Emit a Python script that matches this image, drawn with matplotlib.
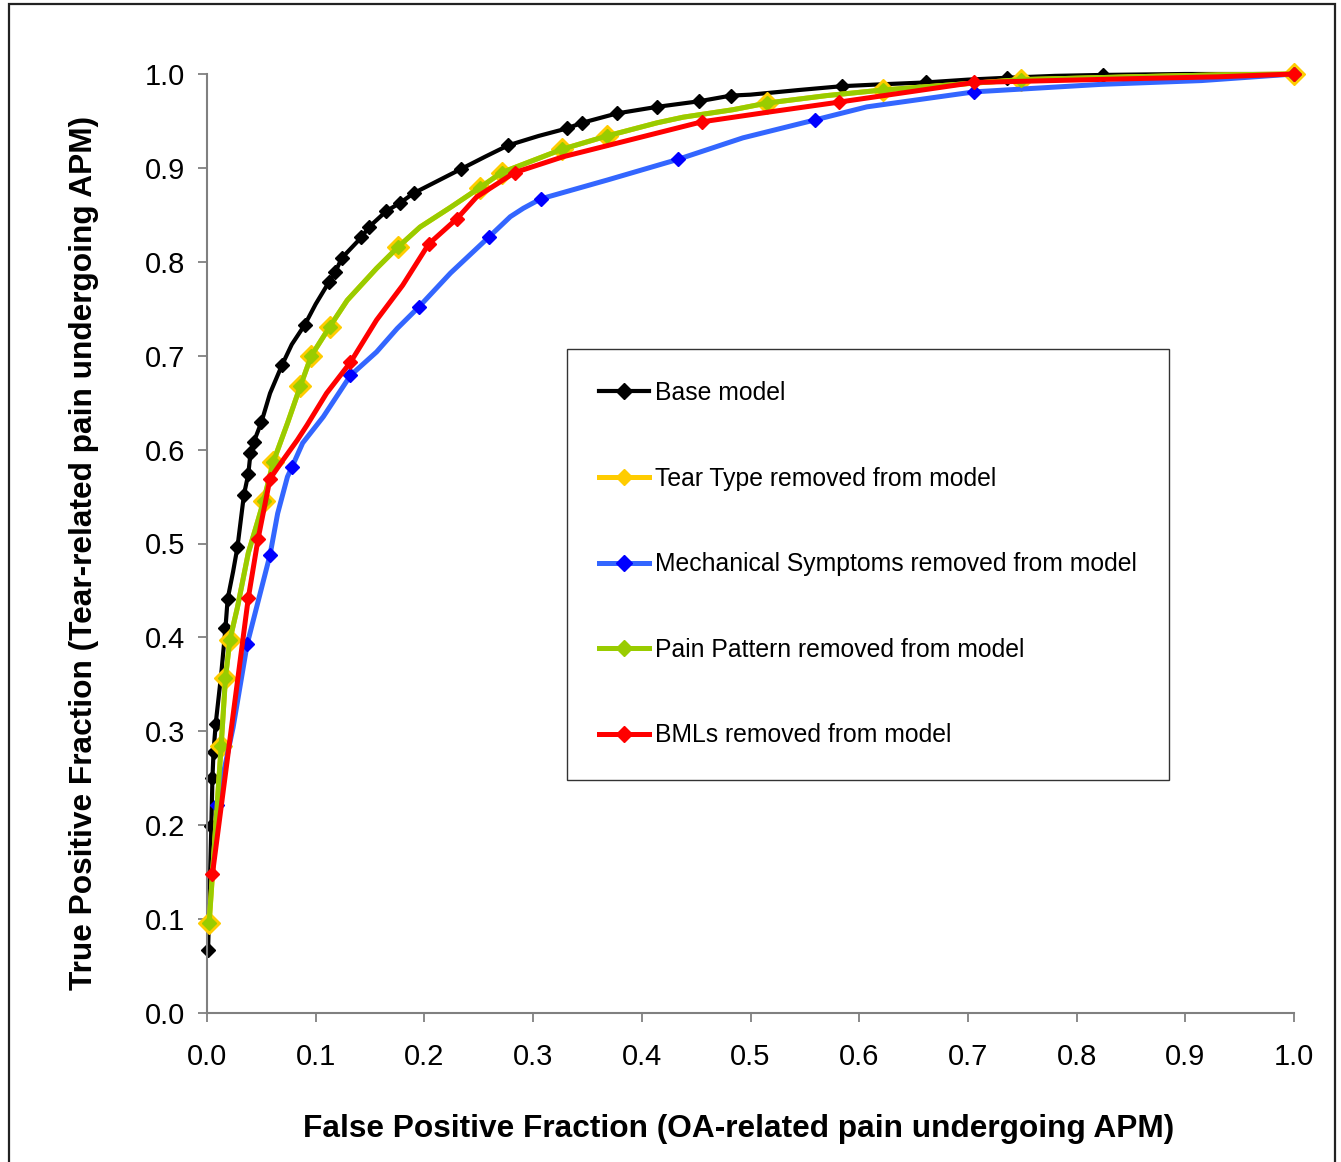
import numpy as np
import matplotlib
matplotlib.use("Agg")
import matplotlib.pyplot as plt
from matplotlib.patches import Rectangle

plt.rcParams['font.family'] = ['Liberation Sans', 'DejaVu Sans']

# ROC points: points carrying a marker, plus extra line points
base_mk_fpr = [0.001, 0.004, 0.005, 0.006, 0.008, 0.017, 0.019, 0.028, 0.034, 0.038, 0.040, 0.043, 0.050,
               0.069, 0.090, 0.112, 0.118, 0.124, 0.142, 0.149, 0.165, 0.178, 0.190, 0.234, 0.277, 0.331,
               0.345, 0.377, 0.414, 0.453, 0.482, 0.584, 0.661, 0.736, 0.824, 1.000]
base_mk_tpr = [0.067, 0.199, 0.250, 0.278, 0.308, 0.410, 0.441, 0.496, 0.552, 0.574, 0.596, 0.608, 0.629,
               0.690, 0.733, 0.778, 0.789, 0.804, 0.826, 0.837, 0.854, 0.863, 0.873, 0.899, 0.924, 0.942,
               0.948, 0.958, 0.965, 0.971, 0.977, 0.987, 0.991, 0.996, 0.999, 1.000]
base_ex_fpr = [0.013, 0.024, 0.058, 0.078, 0.100, 0.212, 0.256, 0.305, 0.500, 0.545, 0.620, 0.700, 0.780, 0.900]
base_ex_tpr = [0.360, 0.470, 0.660, 0.712, 0.755, 0.886, 0.912, 0.934, 0.978, 0.983, 0.989, 0.994, 0.998, 1.000]

tear_mk_fpr = [0.002, 0.013, 0.017, 0.021, 0.052, 0.061, 0.086, 0.096, 0.113, 0.176, 0.251, 0.271, 0.327,
               0.368, 0.515, 0.622, 0.749, 1.000]
tear_mk_tpr = [0.096, 0.284, 0.357, 0.397, 0.545, 0.587, 0.668, 0.700, 0.731, 0.816, 0.879, 0.895, 0.920,
               0.934, 0.969, 0.983, 0.994, 1.000]
tear_ex_fpr = [0.028, 0.038, 0.047, 0.074, 0.129, 0.156, 0.196, 0.224, 0.414, 0.438, 0.484, 0.570, 0.850, 0.930]
tear_ex_tpr = [0.432, 0.490, 0.525, 0.628, 0.759, 0.793, 0.837, 0.858, 0.948, 0.954, 0.962, 0.977, 0.997, 0.999]

# Pain Pattern curve sits exactly on top of the Tear Type curve
pain_mk_fpr = list(tear_mk_fpr)
pain_mk_tpr = list(tear_mk_tpr)
pain_ex_fpr = list(tear_ex_fpr)
pain_ex_tpr = list(tear_ex_tpr)

mech_mk_fpr = [0.009, 0.037, 0.058, 0.078, 0.132, 0.195, 0.259, 0.307, 0.433, 0.559, 0.706, 1.000]
mech_mk_tpr = [0.222, 0.393, 0.488, 0.581, 0.679, 0.752, 0.826, 0.867, 0.909, 0.951, 0.981, 1.000]
mech_ex_fpr = [0.024, 0.065, 0.074, 0.088, 0.107, 0.156, 0.175, 0.224, 0.279, 0.291, 0.368, 0.493, 0.607,
               0.823, 0.915]
mech_ex_tpr = [0.304, 0.532, 0.571, 0.607, 0.635, 0.704, 0.729, 0.788, 0.848, 0.857, 0.887, 0.932, 0.965,
               0.989, 0.993]

bml_mk_fpr = [0.005, 0.038, 0.047, 0.058, 0.132, 0.204, 0.230, 0.283, 0.455, 0.581, 0.706, 1.000]
bml_mk_tpr = [0.148, 0.442, 0.505, 0.569, 0.693, 0.819, 0.846, 0.895, 0.949, 0.970, 0.991, 1.000]
bml_ex_fpr = [0.070, 0.083, 0.092, 0.110, 0.156, 0.180, 0.248, 0.328, 0.520, 0.850, 0.930]
bml_ex_tpr = [0.589, 0.610, 0.626, 0.660, 0.738, 0.775, 0.869, 0.912, 0.960, 0.995, 0.997]

labels = ["Base model", "Tear Type removed from model", "Mechanical Symptoms removed from model",
          "Pain Pattern removed from model", "BMLs removed from model"]
ticks = np.round(np.arange(0, 1.01, 0.1), 1)


def curve(mk_x, mk_y, ex_x, ex_y):
    x = np.array(mk_x + ex_x)
    y = np.array(mk_y + ex_y)
    order = np.lexsort((y, x))
    return x[order], y[order]


fig = plt.figure(figsize=(13.41, 11.62), dpi=100)
ax = fig.add_axes([207/1341, 1-1013/1162, 1087/1341, 939/1162])

# (markers x, markers y, extra x, extra y, line colour, marker face, marker edge, line width, marker size)
series = [
    (base_mk_fpr, base_mk_tpr, base_ex_fpr, base_ex_tpr, "black", "black", "black", 3.0, 10),
    (tear_mk_fpr, tear_mk_tpr, tear_ex_fpr, tear_ex_tpr, "#FFCC00", "#FFCC00", "#FFCC00", 3.6, 15),
    (mech_mk_fpr, mech_mk_tpr, mech_ex_fpr, mech_ex_tpr, "#3366FF", "#0000FF", "#0000FF", 3.6, 10),
    (pain_mk_fpr, pain_mk_tpr, pain_ex_fpr, pain_ex_tpr, "#99CC00", "#99CC00", "#99CC00", 3.6, 10),
    (bml_mk_fpr, bml_mk_tpr, bml_ex_fpr, bml_ex_tpr, "#FF0000", "#FF0000", "#FF0000", 3.6, 10),
]

handles = []
for i, (mx, my, exx, exy, lc, mc, ec, lw, ms) in enumerate(series):
    x, y = curve(mx, my, exx, exy)
    ax.plot(x, y, color=lc, lw=lw, zorder=2 + i, clip_on=False, solid_joinstyle='round')
    ax.plot(mx, my, ls='none', marker='D', ms=ms * 0.75, mfc=mc, mec=ec, zorder=2 + i, clip_on=False)
    h, = ax.plot([], [], color=lc, lw=lw, marker='D', ms=8, mfc=mc, mec=ec)
    handles.append(h)

ax.set_xlim(0, 1)
ax.set_ylim(0, 1)
ax.set_xticks(ticks)
ax.set_yticks(ticks)
ax.set_xticklabels(["%.1f" % t for t in ticks])
ax.set_yticklabels(["%.1f" % t for t in ticks])
for s in ["top", "right"]:
    ax.spines[s].set_visible(False)
for s in ["left", "bottom"]:
    ax.spines[s].set_color("#808080")
    ax.spines[s].set_linewidth(1.5)
ax.tick_params(axis='both', direction='out', length=6.5, width=1.3, color="#808080", labelsize=21)
ax.tick_params(axis='x', pad=15)
ax.tick_params(axis='y', pad=9)

ax.set_xlabel("False Positive Fraction (OA-related pain undergoing APM)", fontsize=22.8, fontweight='bold')
ax.set_ylabel("True Positive Fraction (Tear-related pain undergoing APM)", fontsize=22.8, fontweight='bold')
ax.xaxis.set_label_coords(0.4894, -0.1076)
ax.yaxis.set_label_coords(-0.0989, 0.49)

leg = ax.legend(handles, labels, loc='upper left', bbox_to_anchor=(567/1341, 1-349/1162),
                bbox_transform=fig.transFigure, fontsize=17.8, frameon=True, fancybox=False,
                labelspacing=2.49, handlelength=2.0, handletextpad=0.25, borderpad=1.3, borderaxespad=0)
leg.get_frame().set_edgecolor("black")
leg.get_frame().set_linewidth(1.0)

fig.patches.append(Rectangle((9/1341, -0.01), 1326/1341, 1.01 - 4/1162, transform=fig.transFigure,
                             fill=False, edgecolor="#222222", lw=1.6))

fig.savefig("out.png", dpi=100)
